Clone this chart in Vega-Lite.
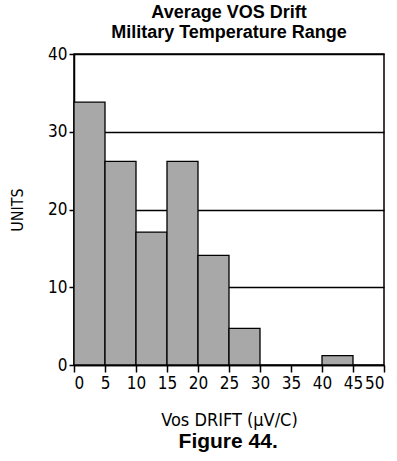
{
  "$schema": "https://vega.github.io/schema/vega-lite/v6.json",
  "background": "white",
  "padding": {"left": 8, "top": 3, "right": 10, "bottom": 5},
  "title": {"text": "Figure 44.", "orient": "bottom", "anchor": "middle", "font": "Liberation Sans", "fontSize": 21, "fontWeight": "bold", "color": "black", "offset": 1, "dx": 31},
  "vconcat": [
    {
      "width": 310,
      "height": 311,
      "title": {"text": ["Average VOS Drift", "Military Temperature Range"], "anchor": "middle", "font": "Liberation Sans", "fontSize": 18, "fontWeight": "bold", "color": "black", "lineHeight": 20, "offset": 3},
      "data": {"values": [
        {"lo": 0, "hi": 5, "units": 33.8},
        {"lo": 5, "hi": 10, "units": 26.2},
        {"lo": 10, "hi": 15, "units": 17.1},
        {"lo": 15, "hi": 20, "units": 26.2},
        {"lo": 20, "hi": 25, "units": 14.1},
        {"lo": 25, "hi": 30, "units": 4.7},
        {"lo": 40, "hi": 45, "units": 1.2}
      ]},
      "mark": {"type": "bar", "fill": "#a8a8a8", "stroke": "black", "strokeWidth": 1.3},
      "encoding": {
        "x": {"field": "lo", "type": "quantitative", "scale": {"domain": [0, 50], "nice": false, "zero": false},
              "axis": {"values": [0,5,10,15,20,25,30,35,40,45,50], "title": "Vos DRIFT (\u03bcV/C)", "grid": false, "domainColor": "black", "domainWidth": 1.5, "tickColor": "black", "tickWidth": 1.5, "tickSize": 7, "labelFont": "DejaVu Sans Condensed, Liberation Mono", "labelFontSize": 17, "labelColor": "black", "labelPadding": 3, "titleFont": "DejaVu Sans Condensed, Liberation Mono", "titleFontSize": 18, "titleFontWeight": "normal", "titleColor": "black", "titlePadding": 20}},
        "x2": {"field": "hi"},
        "y": {"field": "units", "type": "quantitative", "scale": {"domain": [0, 40], "nice": false},
              "axis": {"values": [0,10,20,30,40], "title": "UNITS", "grid": true, "gridColor": "black", "gridWidth": 1.5, "gridOpacity": 1, "domainColor": "black", "domainWidth": 1.5, "tickColor": "black", "tickWidth": 1.5, "tickSize": 5, "labelFont": "DejaVu Sans Condensed, Liberation Mono", "labelFontSize": 17, "labelColor": "black", "labelPadding": 2, "titleFont": "DejaVu Sans Condensed, Liberation Mono", "titleFontSize": 16, "titleFontWeight": "normal", "titleColor": "black", "titlePadding": 22}},
        "y2": {"datum": 0}
      }
    }
  ],
  "config": {"view": {"stroke": "black", "strokeWidth": 1.5}, "concat": {"spacing": 0}}
}
